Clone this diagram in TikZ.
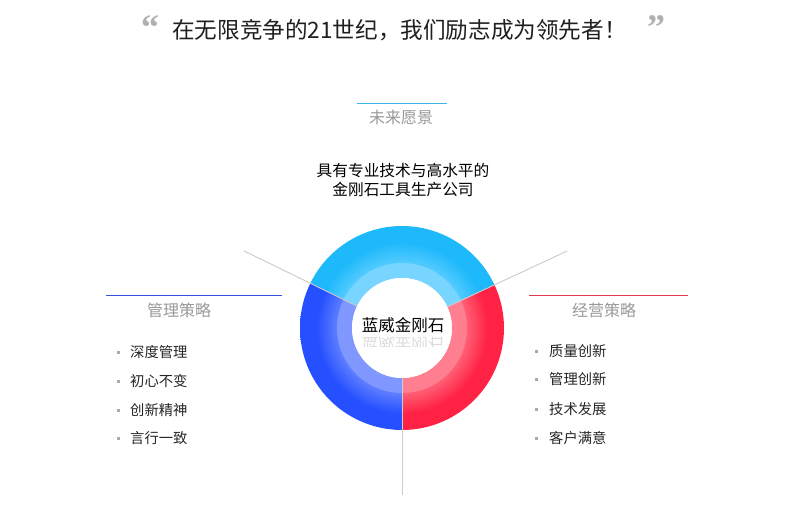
\documentclass[tikz,border=0pt]{standalone}
\usepackage{fontspec}
\usetikzlibrary{calc}
\setmainfont{Noto Sans CJK SC}
\newfontfamily\quotefont{Liberation Serif}
\definecolor{cyanmain}{HTML}{1EB9FB}
\definecolor{cyanlight}{HTML}{55CBFF}
\definecolor{bluemain}{HTML}{2650FF}
\definecolor{bluelight}{HTML}{5F7EFF}
\definecolor{redmain}{HTML}{FF2244}
\definecolor{redlight}{HTML}{FF5F75}
\definecolor{headgray}{HTML}{999999}
\definecolor{linegray}{HTML}{CCCCCC}
\definecolor{bulletgray}{HTML}{AAAAAA}
\definecolor{quotegray}{HTML}{B0B0B0}
\definecolor{topline}{HTML}{3DB5E6}
\definecolor{leftline}{HTML}{3355DD}
\definecolor{rightline}{HTML}{E03A4E}
\pgfdeclareradialshading{cyanshade}{\pgfpoint{0bp}{0bp}}{color(0bp)=(cyanlight); color(15.9bp)=(cyanlight); color(21bp)=(cyanmain); color(25bp)=(cyanmain); color(50bp)=(cyanmain)}
\pgfdeclareradialshading{blueshade}{\pgfpoint{0bp}{0bp}}{color(0bp)=(bluelight); color(15.9bp)=(bluelight); color(21bp)=(bluemain); color(25bp)=(bluemain); color(50bp)=(bluemain)}
\pgfdeclareradialshading{redshade}{\pgfpoint{0bp}{0bp}}{color(0bp)=(redlight); color(15.9bp)=(redlight); color(21bp)=(redmain); color(25bp)=(redmain); color(50bp)=(redmain)}
\tikzset{
  headtext/.style={font=\fontsize{16}{18}\selectfont, text=headgray, inner sep=0pt},
  itemtext/.style={font=\fontsize{14.3}{16}\selectfont, text=black!85, anchor=west, inner sep=0pt},
  bulletsq/.style={fill=bulletgray, minimum size=3pt, inner sep=0pt, draw=none},
  divline/.style={draw=linegray, line width=0.9pt},
  quotemark/.style={font=\quotefont\bfseries\fontsize{36}{36}\selectfont, text=quotegray, inner sep=0pt, anchor=base}
}
\begin{document}
\begin{tikzpicture}[x=1pt,y=1pt]
\useasboundingbox[fill=white] (0,0) rectangle (805,-521);
% title
\node[quotemark] (ql) at (150,-40) {“};
\node[quotemark] (qr) at (656,-40) {”};
\node[font=\fontsize{22.6}{24}\selectfont, text=black!88, inner sep=0pt, anchor=west] (title) at (172,-30) {在无限竞争的21世纪，我们励志成为领先者！};
% future vision
\coordinate (tl1) at (357,-103);
\coordinate (tl2) at (447,-103);
\draw[topline, line width=0.9pt] (tl1) -- (tl2);
\node[headtext] (vision) at (401,-117) {未来愿景};
\node[font=\fontsize{15.7}{19}\selectfont, align=center, inner sep=0pt] (visiontext) at (403,-180) {具有专业技术与高水平的\\金刚石工具生产公司};
% ring
\coordinate (c) at (402,-328);
\begin{scope}
  \clip (c) ++(25:102) arc (25:154:102) -- ($(c)+(154:50)$) arc (154:25:50) -- cycle;
  \shade[shading=cyanshade] (c) circle (102);
\end{scope}
\begin{scope}
  \clip (c) ++(154:102) arc (154:270:102) -- ($(c)+(270:50)$) arc (270:154:50) -- cycle;
  \shade[shading=blueshade] (c) circle (102);
\end{scope}
\begin{scope}
  \clip (c) ++(-90:102) arc (-90:25:102) -- ($(c)+(25:50)$) arc (25:-90:50) -- cycle;
  \shade[shading=redshade] (c) circle (102);
\end{scope}
\fill[white, opacity=0.2, even odd rule] (c) circle (65) (c) circle (50);
\fill[white] (c) circle (50);
% divider lines
\coordinate (l1) at ($(c)+(154:50)$);
\coordinate (l2) at ($(c)+(154:176)$);
\coordinate (r1) at ($(c)+(25:50)$);
\coordinate (r2) at ($(c)+(25:182)$);
\coordinate (b1) at ($(c)+(270:50)$);
\coordinate (b2) at (402,-495);
\draw[divline] (l1) -- (l2);
\draw[divline] (r1) -- (r2);
\draw[divline] (b1) -- (b2);
% centre text with reflection
\node[font=\fontsize{16.5}{18}\selectfont, inner sep=0pt] (center) at (403,-325) {蓝威金刚石};
\begin{scope}
  \clip (340,-334) rectangle (470,-346);
  \node[font=\fontsize{16.5}{18}\selectfont, inner sep=0pt, yscale=-1, opacity=0.14] (centerrefl) at (403,-345) {蓝威金刚石};
\end{scope}
% left block
\coordinate (ll1) at (106,-295);
\coordinate (ll2) at (282,-295);
\draw[leftline, line width=0.9pt] (ll1) -- (ll2);
\node[headtext] (mgmt) at (179,-310) {管理策略};
\foreach \t/\y/\n in {深度管理/352/a, 初心不变/381/b, 创新精神/410/c, 言行一致/438/d}{
  \node[bulletsq] (lb\n) at (118,-\y) {};
  \node[itemtext] (lt\n) at (130,-\y) {\t};
}
% right block
\coordinate (rl1) at (529,-295);
\coordinate (rl2) at (688,-295);
\draw[rightline, line width=0.9pt] (rl1) -- (rl2);
\node[headtext] (oper) at (604,-310) {经营策略};
\foreach \t/\y/\n in {质量创新/351/a, 管理创新/379/b, 技术发展/409/c, 客户满意/438/d}{
  \node[bulletsq] (rb\n) at (536,-\y) {};
  \node[itemtext] (rt\n) at (549,-\y) {\t};
}
\end{tikzpicture}
\end{document}
